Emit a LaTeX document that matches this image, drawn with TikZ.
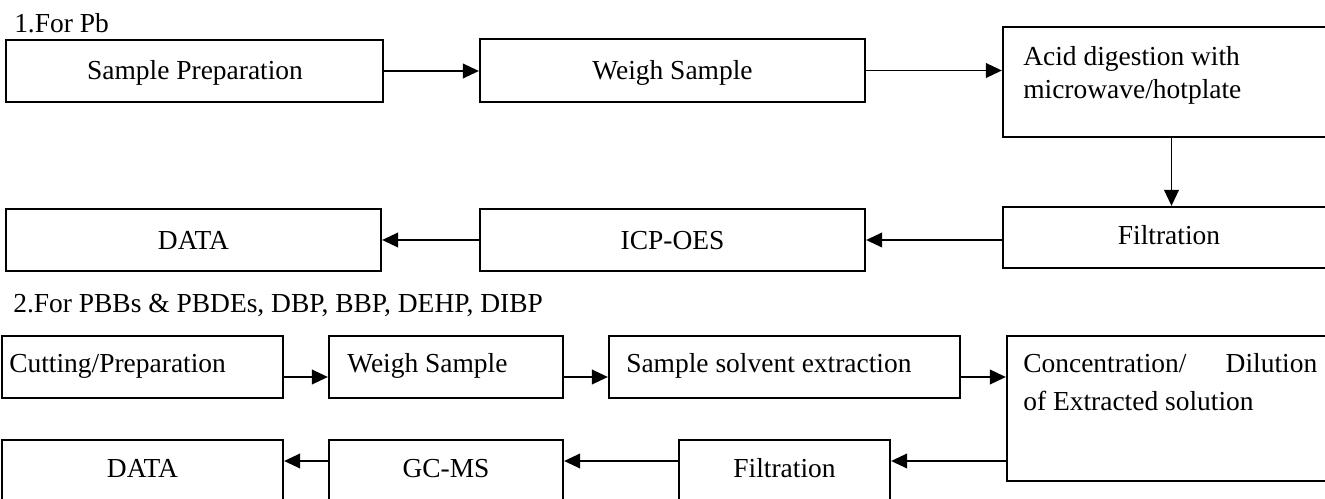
\documentclass[tikz,border=0pt]{standalone}
\usepackage{fontspec}
\setmainfont{Liberation Serif}
\usetikzlibrary{arrows.meta,fit}
\begin{document}
\begin{tikzpicture}[x=0.75pt,y=-0.75pt,
  box/.style={draw=black,line width=1.7pt,inner sep=0pt,rectangle},
  txt/.style={inner sep=0pt,font=\fontsize{20.6}{24.4}\selectfont},
  arr/.style={line width=1.3pt,-{Triangle[length=12pt,width=11pt]}}]
\useasboundingbox (0,0) rectangle (1325,499);
\clip (0,0) rectangle (1325,499);
\fill[white] (0,0) rectangle (1325,499);
% ---------- section 1 ----------
\node[txt,anchor=base west] (h1) at (14,33) {1.For Pb};
\node[box,fit={(6,40) (383,102)}] (sp) {};
\node[box,fit={(480,39) (865,102)}] (ws1) {};
\node[box,fit={(1003,27) (1340,137)}] (acid) {};
\node[box,fit={(1003,207) (1340,268)}] (filt1) {};
\node[box,fit={(480,209) (865,271)}] (icp) {};
\node[box,fit={(6,209) (381,271)}] (data1) {};
\node[txt,anchor=base] (tsp) at (195,80) {Sample Preparation};
\node[txt,anchor=base] (tws1) at (672.5,80) {Weigh Sample};
\node[txt,anchor=base west] (tacid1) at (1023,66) {Acid digestion with};
\node[txt,anchor=base west] (tacid2) at (1023,98.5) {microwave/hotplate};
\node[txt,anchor=base] (tfilt1) at (1169,245) {Filtration};
\node[txt,anchor=base] (ticp) at (672.5,249) {ICP-OES};
\node[txt,anchor=base] (tdata1) at (193.5,249) {DATA};
\draw[arr] (sp.east) -- (ws1.west |- sp.east);
\draw[arr] (ws1.east) -- (ws1.east -| acid.west);
\draw[arr] (acid.south) -- (filt1.north);
\draw[arr] (filt1.west |- icp.east) -- (icp.east);
\draw[arr] (icp.west) -- (data1.east);
% ---------- section 2 ----------
\node[txt,anchor=base west] (h2) at (13,312) {2.For PBBs \& PBDEs, DBP, BBP, DEHP, DIBP};
\node[box,fit={(2,336) (283,398)}] (cut) {};
\node[box,fit={(329,336) (563,398)}] (ws2) {};
\node[box,fit={(609,336) (960,398)}] (sse) {};
\node[box,fit={(1007,336) (1340,481)}] (conc) {};
\node[box,fit={(2,440) (283,512)}] (data2) {};
\node[box,fit={(329,440) (563,512)}] (gc) {};
\node[box,fit={(679,440) (890,512)}] (filt2) {};
\node[txt,anchor=base west] (tcut) at (9,372) {Cutting/Preparation};
\node[txt,anchor=base west] (tws2) at (347,372) {Weigh Sample};
\node[txt,anchor=base west] (tsse) at (626,372) {Sample solvent extraction};
\node[txt,anchor=base west] (tconc1) at (1023,372) {\hbox to 220.5pt{Concentration/\hfill Dilution}};
\node[txt,anchor=base west] (tconc2) at (1023,410) {of Extracted solution};
\node[txt,anchor=base] (tdata2) at (142.5,477) {DATA};
\node[txt,anchor=base] (tgc) at (446,477) {GC-MS};
\node[txt,anchor=base] (tfilt2) at (784.5,477) {Filtration};
\coordinate (r1) at (0,377);
\coordinate (r2) at (0,461);
\draw[arr] (cut.east |- r1) -- (ws2.west |- r1);
\draw[arr] (ws2.east |- r1) -- (sse.west |- r1);
\draw[arr] (sse.east |- r1) -- (conc.west |- r1);
\draw[arr] (conc.west |- r2) -- (filt2.east |- r2);
\draw[arr] (filt2.west |- r2) -- (gc.east |- r2);
\draw[arr] (gc.west |- r2) -- (data2.east |- r2);
\end{tikzpicture}
\end{document}
